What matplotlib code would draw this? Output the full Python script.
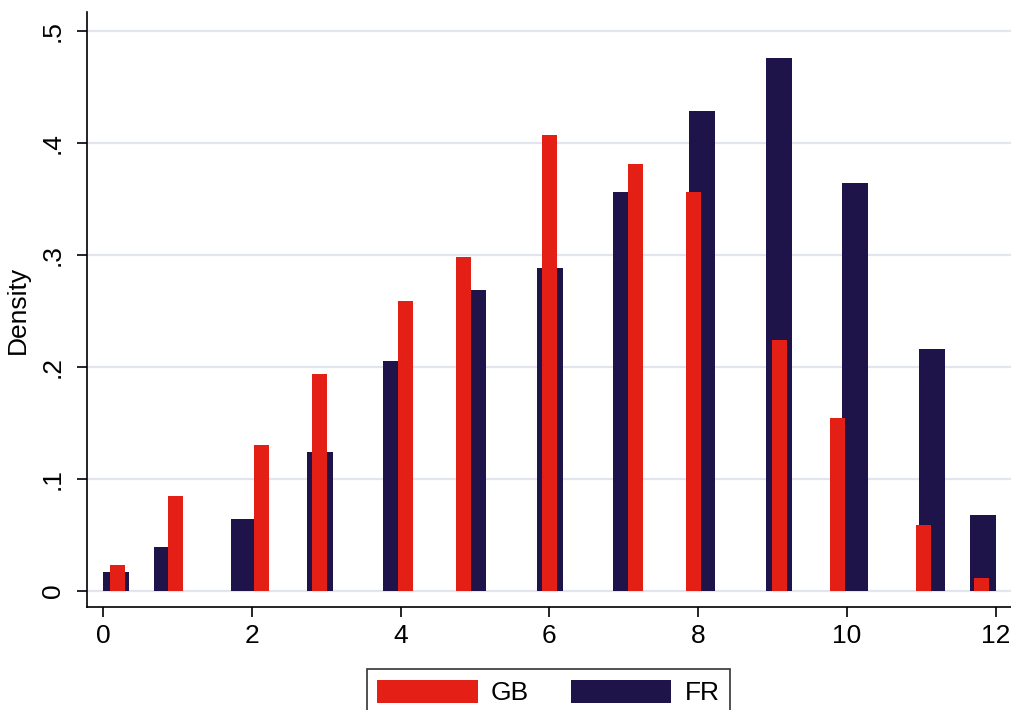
import matplotlib.pyplot as plt
from matplotlib.patches import Patch

plt.rcParams['font.family'] = ['Liberation Sans', 'DejaVu Sans']

# ----------------------------
# Data
# ----------------------------
fr_x = [0.175, 0.860, 1.895, 2.917, 3.939, 4.974, 6.009, 7.031, 8.052, 9.087, 10.108, 11.143, 11.829]
fr_density = [0.017, 0.039, 0.064, 0.124, 0.205, 0.269, 0.288, 0.356, 0.428, 0.476, 0.364, 0.216, 0.068]

gb_x = [0.195, 0.975, 2.131, 2.910, 4.066, 4.846, 6.002, 7.158, 7.938, 9.094, 9.873, 11.030, 11.810]
gb_density = [0.023, 0.085, 0.130, 0.194, 0.259, 0.298, 0.407, 0.381, 0.356, 0.224, 0.1545, 0.059, 0.012]

x_ticks = [0, 2, 4, 6, 8, 10, 12]
y_ticks = [0, 0.1, 0.2, 0.3, 0.4, 0.5]
y_tick_labels = ["0", ".1", ".2", ".3", ".4", ".5"]

red = "#E42016"
navy = "#1E1449"
grid_col = "#E1E5F0"

# ----------------------------
# Plot
# ----------------------------
fig = plt.figure(figsize=(10.11, 7.1), dpi=100)
ax = fig.add_axes([0.0861, 0.1444, 0.9139, 0.8386])

ax.bar(fr_x, fr_density, width=0.35, color=navy, linewidth=0, zorder=2)
ax.bar(gb_x, gb_density, width=0.20, color=red, linewidth=0, zorder=3)

ax.set_xlim(-0.215, 12.206)
ax.set_ylim(-0.0147, 0.5167)

ax.set_xticks(x_ticks)
ax.set_yticks(y_ticks)
ax.set_yticklabels(y_tick_labels, rotation=90, va="center")
ax.tick_params(axis="both", length=7, width=1.2, labelsize=19, color="black")
ax.tick_params(axis="y", pad=9)
ax.tick_params(axis="x", pad=5)

ax.yaxis.grid(True, color=grid_col, linewidth=1.6, zorder=0)
ax.set_axisbelow(True)

for side in ["top", "right"]:
    ax.spines[side].set_visible(False)
for side in ["left", "bottom"]:
    ax.spines[side].set_linewidth(1.2)

ax.set_ylabel("Density", fontsize=19, labelpad=8)

handles = [Patch(facecolor=red, edgecolor="none", label="GB"),
           Patch(facecolor=navy, edgecolor="none", label="FR")]
leg = fig.legend(handles=handles, ncol=2, loc="upper center",
                 bbox_to_anchor=(0.5425, 0.0577), fontsize=19,
                 frameon=True, fancybox=False, edgecolor="black",
                 handlelength=3.8, handleheight=1.0, handletextpad=0.5,
                 columnspacing=1.6, borderpad=0.4, borderaxespad=0)
leg.get_frame().set_linewidth(1.2)

fig.savefig("out.png", dpi=100)
plt.close(fig)
